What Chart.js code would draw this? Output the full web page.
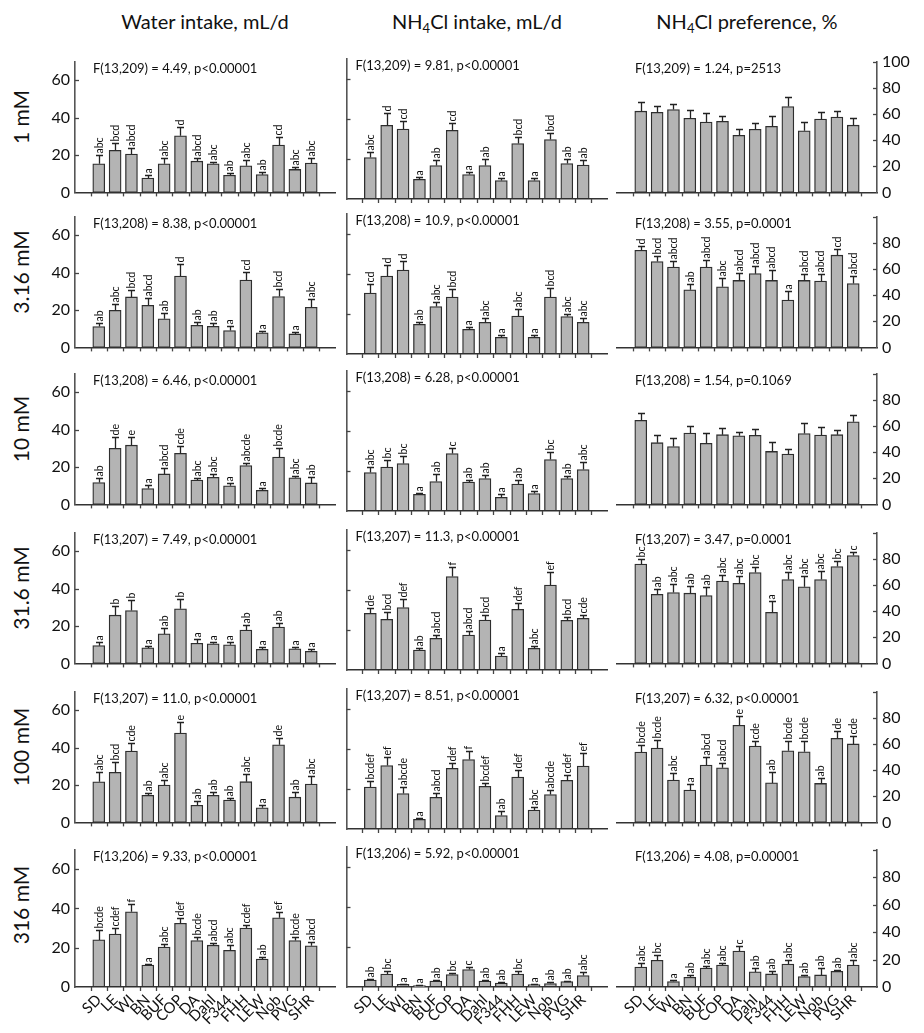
<!DOCTYPE html>
<html><head><meta charset="utf-8">
<script src="https://cdn.jsdelivr.net/npm/chart.js@4/dist/chart.umd.min.js"></script>
<style>
html,body{margin:0;padding:0;background:#fff;}
body{width:924px;height:1033px;position:relative;overflow:hidden;font-family:Lato,"Open Sans",sans-serif;color:#111;}
canvas{position:absolute;}
.ctitle{position:absolute;top:6px;width:300px;text-align:center;font-size:20px;line-height:30px;}
.ctitle sub{font-size:13px;vertical-align:-4px;line-height:0;}
.rlabel{position:absolute;width:200px;height:26px;line-height:26px;text-align:center;font-size:21px;transform:rotate(-90deg);}
</style></head>
<body>
<script>
// ---------------- DATA ----------------
const strains = ['SD','LE','WI','BN','BUF','COP','DA','Dahl','F344','FHH','LEW','Nob','PVG','SHR'];
const concentrations = ['1 mM','3.16 mM','10 mM','31.6 mM','100 mM','316 mM'];
const columnTitles = ['Water intake, mL/d','NH<sub>4</sub>Cl intake, mL/d','NH<sub>4</sub>Cl preference, %'];
const intakeTicks = [0,20,40,60];
const prefTicks = [0,20,40,60,80,100];

// Water intake (mL/d): means, SE, significance letters
const water_1 = [15.3,22.5,20.5,7.7,15.3,30.3,16.7,15.3,9.2,14.2,9.5,25.3,12.3,15.7];
const water_1_se = [4.5,4.2,3.0,1.5,3.0,4.5,1.8,1.2,1.3,3.0,1.2,4.4,1.2,2.5];
const water_1_sig = ['abc','bcd','abcd','a','abc','d','abcd','abc','ab','abc','ab','cd','abc','abc'];
const water_316 = [11.2,19.8,27,22.5,15.3,38.2,11.8,11.3,9,36,7.8,27.2,7.2,21.5];
const water_316_se = [2.1,3.5,3.5,4.0,3.2,6.6,1.7,1.5,2.2,4.2,1.0,3.8,1.3,4.5];
const water_316_sig = ['ab','abc','bcd','abcd','ab','d','ab','ab','a','cd','a','bcd','a','abc'];
const water_10 = [11.7,30,31.7,8.5,16.3,27.3,13,14.5,10,20.8,7.5,25.3,14.2,11.5];
const water_10_se = [2.5,6.2,4.5,2.0,3.2,4.2,1.0,1.7,1.2,1.2,1.2,4.7,1.1,3.0];
const water_10_sig = ['ab','de','e','a','abcd','cde','abc','abc','a','abcde','a','bcde','abc','ab'];
const water_31 = [9.5,25.8,28.3,8.3,15.8,29.2,10.8,10.5,10,17.8,7.5,19.5,7.8,6.5];
const water_31_se = [2.0,5.0,5.4,1.2,2.9,5.0,2.0,1.0,1.5,2.7,1.5,2.2,1.0,1.3];
const water_31_sig = ['a','b','b','a','ab','b','a','a','a','ab','a','ab','a','a'];
const water_100 = [21.7,26.8,38.2,14.5,20,47.8,9.2,14.5,12,21.8,7.8,41.5,13.5,20.5];
const water_100_se = [5.1,5.7,4.3,1.2,2.8,6.0,2.0,1.7,1.2,4.0,1.5,3.7,2.7,4.5];
const water_100_sig = ['abc','bcd','cde','ab','abc','e','ab','ab','ab','abc','a','de','ab','abc'];
const water_316mM = [24,27,38.3,11.2,20.3,32.5,23.7,21.3,18.7,30,14.2,35.3,23.7,21];
const water_316mM_se = [4.8,3.3,3.9,0.5,1.7,2.5,1.8,1.2,2.6,1.7,1.3,3.0,1.6,2.0];
const water_316mM_sig = ['bcde','cdef','f','a','abc','def','bcde','abcd','abc','cdef','ab','ef','bcde','abcd'];
const water_stats = ['F(13,209) = 4.49, p<0.00001','F(13,208) = 8.38, p<0.00001','F(13,208) = 6.46, p<0.00001','F(13,207) = 7.49, p<0.00001','F(13,207) = 11.0, p<0.00001','F(13,206) = 9.33, p<0.00001'];

// NH4Cl intake (mL/d)
const nh4_1 = [20.7,36.8,35,9.8,16.7,34.3,12.2,16.7,9.2,27.7,9.2,29.7,17.7,17];
const nh4_1_se = [3.0,6.0,4.2,1.4,2.8,3.5,1.1,3.1,1.5,3.1,1.5,3.5,2.1,2.5];
const nh4_1_sig = ['abc','d','cd','a','ab','cd','a','ab','a','bcd','a','bcd','ab','ab'];
const nh4_316 = [30.5,39,42,14.8,23.7,28.5,12.3,15.8,8.3,19,8.3,28.5,18.7,15.8];
const nh4_316_se = [4.3,5.5,4.7,1.4,2.5,3.8,1.4,2.0,1.2,3.3,1.2,4.3,1.3,2.0];
const nh4_316_sig = ['cd','d','d','ab','abc','bcd','a','abc','a','abc','a','bcd','abc','abc'];
const nh4_10 = [19.2,22,23.7,8.3,14.7,28.7,14.5,16.2,6.8,13.5,8.7,25.7,16.2,20.7];
const nh4_10_se = [2.6,3.3,3.6,0.7,4.0,3.0,1.2,2.0,1.7,2.0,1.3,3.6,1.5,3.6];
const nh4_10_sig = ['abc','bc','bc','a','ab','c','ab','ab','a','ab','a','bc','ab','abc'];
const nh4_31 = [28.3,25.3,31.2,10,15.8,46.7,17.5,25,7,30.3,10.8,42.5,24.8,25.8];
const nh4_31_se = [2.9,3.5,4.1,1.2,1.7,5.0,2.0,2.5,1.3,3.0,1.4,6.7,1.9,1.7];
const nh4_31_sig = ['de','bcd','def','ab','abcd','f','abcd','bcd','a','def','abc','ef','bcd','cde'];
const nh4_100 = [21,31.7,17.7,4.8,15.8,30.3,34.7,21.3,6.7,26,9.5,17.2,24.3,31.5];
const nh4_100_se = [3.0,4.1,3.1,0.9,2.4,2.5,4.3,1.9,2.1,3.5,1.7,2.3,2.7,6.7];
const nh4_100_sig = ['bcdef','ef','abcde','a','abcd','def','f','bcdef','ab','def','abc','abcde','cdef','ef'];
const nh4_316mM = [3.5,6.5,1.3,0.7,3,6.2,8.7,3,2,6.5,1.2,1.7,2.7,5.7];
const nh4_316mM_se = [0.7,1.3,0.4,0.3,0.7,0.6,1.3,0.7,0.3,1.5,0.2,0.8,0.3,1.8];
const nh4_316mM_sig = ['ab','bc','a','a','ab','bc','c','ab','ab','bc','a','ab','ab','abc'];
const nh4_stats = ['F(13,209) = 9.81, p<0.00001','F(13,208) = 10.9, p<0.00001','F(13,208) = 6.28, p<0.00001','F(13,207) = 11.3, p<0.00001','F(13,207) = 8.51, p<0.00001','F(13,206) = 5.92, p<0.00001'];

// NH4Cl preference (%)
const pref_1 = [62.1,61.2,63.3,56.7,53.8,54.3,43.6,48.3,50.5,65.7,47.1,56,57.6,51.4];
const pref_1_se = [6.9,4.8,4.3,6.6,6.9,4.0,4.7,4.6,7.8,6.9,6.7,5.7,4.8,5.3];
const pref_1_sig = [];
const pref_316 = [74.3,65.7,61.4,44,61.4,46.4,51.2,56.4,51.2,36.2,51.2,50.7,70.5,48.8];
const pref_316_se = [3.1,3.8,4.3,4.1,5.7,6.5,5.7,6.0,7.6,6.7,5.0,5.7,4.7,5.7];
const pref_316_sig = ['d','bcd','abcd','ab','abcd','abc','abcd','abcd','abcd','a','abcd','abcd','cd','abcd'];
const pref_10 = [64.3,47.2,44.3,54.5,46.7,53.3,52.5,52.8,40.5,38.5,54.2,53,53.3,63.1];
const pref_10_se = [5.3,6.0,6.5,5.5,8.0,5.0,3.2,5.2,7.5,3.7,7.8,6.5,3.3,5.6];
const pref_10_sig = [];
const pref_31 = [75.9,52.8,54.2,53.7,51.8,62.9,61.2,69.4,39,64.1,58.6,64.1,74,82.4];
const pref_31_se = [3.6,4.3,6.8,5.6,6.5,4.6,6.0,4.1,8.5,5.5,8.1,6.5,4.3,2.4];
const pref_31_sig = ['bc','ab','abc','ab','ab','abc','abc','bc','a','abc','abc','abc','bc','c'];
const pref_100 = [53.8,56.9,32.4,24.8,43.8,41.7,74.3,58.3,30.2,54.8,54,29.8,64.3,60];
const pref_100_se = [5.7,6.2,5.0,4.2,6.0,3.5,7.1,3.8,8.1,7.3,8.1,4.5,5.7,6.0];
const pref_100_sig = ['bcde','bcde','abc','a','abcd','abcd','e','cde','ab','bcde','bcde','ab','de','cde'];
const pref_316mM = [14.5,19.5,4,7.1,13.8,16,26.2,11,9.5,16.7,7.6,8.8,11.4,16];
const pref_316mM_se = [2.9,3.8,0.8,1.7,1.7,1.6,4.0,2.6,2.4,3.1,1.2,4.8,1.2,4.0];
const pref_316mM_sig = ['abc','bc','a','ab','abc','abc','c','ab','ab','abc','ab','ab','ab','abc'];
const pref_stats = ['F(13,209) = 1.24, p=2513','F(13,208) = 3.55, p=0.0001','F(13,208) = 1.54, p=0.1069','F(13,207) = 3.47, p=0.0001','F(13,207) = 6.32, p<0.00001','F(13,206) = 4.08, p=0.00001'];

// ---------------- LAYOUT ----------------
const FONT = 'Lato, "Open Sans", sans-serif';
const zeroY = [199,354,511,670,829,987];
const PLOT_H = 140, PAD_TOP = 12;
const cols = [
  {left:15, width:325, pos:'left', axisW:60, padL:0, padR:5, max:70, marks:[20,40,60], textDx:18},
  {left:340, width:272, pos:'left', axisW:6.5, padL:0, padR:5, max:70, marks:[20,40,60], textDx:9},
  {left:612, width:312, pos:'right', axisW:47, padL:5, padR:0, max:100, marks:[20,40,60,80,100], textDx:18}
];
const panels = [
  [water_1,water_1_se,water_1_sig],[water_316,water_316_se,water_316_sig],[water_10,water_10_se,water_10_sig],
  [water_31,water_31_se,water_31_sig],[water_100,water_100_se,water_100_sig],[water_316mM,water_316mM_se,water_316mM_sig],
  [nh4_1,nh4_1_se,nh4_1_sig],[nh4_316,nh4_316_se,nh4_316_sig],[nh4_10,nh4_10_se,nh4_10_sig],
  [nh4_31,nh4_31_se,nh4_31_sig],[nh4_100,nh4_100_se,nh4_100_sig],[nh4_316mM,nh4_316mM_se,nh4_316mM_sig],
  [pref_1,pref_1_se,pref_1_sig],[pref_316,pref_316_se,pref_316_sig],[pref_10,pref_10_se,pref_10_sig],
  [pref_31,pref_31_se,pref_31_sig],[pref_100,pref_100_se,pref_100_sig],[pref_316mM,pref_316mM_se,pref_316mM_sig]
];
const stats = [water_stats, nh4_stats, pref_stats];

// titles
const titleCenters = [205, 477, 747];
columnTitles.forEach((t,i)=>{
  const d=document.createElement('div'); d.className='ctitle'; d.innerHTML=t;
  d.style.left=(titleCenters[i]-150)+'px'; document.body.appendChild(d);
});
concentrations.forEach((t,r)=>{
  const d=document.createElement('div'); d.className='rlabel'; d.textContent=t;
  d.style.left=(21-100)+'px'; d.style.top=(zeroY[r]-82-13)+'px'; document.body.appendChild(d);
});

function makePlugin(means, ses, sig, stat, col){
  return {
    id:'panelDecor',
    afterDatasetsDraw(chart){
      const {ctx, chartArea:ca, scales:{x,y}} = chart;
      ctx.save();
      ctx.strokeStyle='#444'; ctx.lineWidth=1.3;
      // inward y tick marks
      col.marks.forEach(v=>{
        const py=Math.round(y.getPixelForValue(v))+0.5;
        ctx.beginPath();
        if(col.pos==='left'){ctx.moveTo(ca.left,py);ctx.lineTo(ca.left+4,py);}
        else {ctx.moveTo(ca.right,py);ctx.lineTo(ca.right-4,py);}
        ctx.stroke();
      });
      // x tick marks between categories
      for(let i=0;i<=strains.length;i++){
        const px=Math.round(x.getPixelForValue(i-0.5))+0.5;
        ctx.beginPath();ctx.moveTo(px,ca.bottom);ctx.lineTo(px,ca.bottom+4);ctx.stroke();
      }
      // error bars + letters
      const meta=chart.getDatasetMeta(0);
      ctx.strokeStyle='#222'; ctx.lineWidth=1.3;
      ctx.fillStyle='#111'; ctx.font='10.5px '+FONT;
      ctx.textAlign='left'; ctx.textBaseline='middle';
      meta.data.forEach((bar,i)=>{
        const yt=y.getPixelForValue(means[i]);
        const yc=Math.round(y.getPixelForValue(means[i]+ses[i]))+0.5;
        const bx=Math.round(bar.x)+0.5;
        ctx.beginPath();ctx.moveTo(bx,yt);ctx.lineTo(bx,yc);
        ctx.moveTo(bx-3.5,yc);ctx.lineTo(bx+3.5,yc);ctx.stroke();
        if(sig[i]){
          ctx.save();ctx.translate(bar.x,yc-2);ctx.rotate(-Math.PI/2);
          ctx.fillText(sig[i],0,0.5);ctx.restore();
        }
      });
      // statistics text
      ctx.font='13px '+FONT; ctx.textBaseline='middle'; ctx.textAlign='left'; ctx.fillStyle='#111';
      ctx.fillText(stat, ca.left+col.textDx, ca.top+7);
      ctx.restore();
    }
  };
}

for(let c=0;c<3;c++){
  for(let r=0;r<6;r++){
    const col=cols[c];
    const [means,ses,sig]=panels[c*6+r];
    const bottomRow = r===5;
    const xH = bottomRow ? 46 : 8;
    const cv=document.createElement('canvas');
    const H = PAD_TOP+PLOT_H+xH;
    cv.width=col.width; cv.height=H;
    cv.style.left=col.left+'px'; cv.style.top=(zeroY[r]-PLOT_H-PAD_TOP)+'px';
    cv.style.width=col.width+'px'; cv.style.height=H+'px';
    document.body.appendChild(cv);
    let yLabels;
    if(c===0) yLabels=intakeTicks;
    else if(c===2) yLabels = r===0 ? prefTicks : prefTicks.slice(0,5);
    else yLabels=[];
    new Chart(cv,{
      type:'bar',
      data:{datasets:[{
        data: means.map((v,i)=>({x:i,y:v})),
        backgroundColor:'#b4b4b4', borderColor:'#2e2e2e', borderWidth:1.3, borderSkipped:false,
        barThickness:12
      }]},
      options:{
        responsive:false, animation:false, devicePixelRatio:1,
        layout:{padding:{top:PAD_TOP,left:col.padL,right:col.padR,bottom:0}},
        plugins:{legend:{display:false},tooltip:{enabled:false},title:{display:false}},
        scales:{
          x:{type:'linear', min:-0.886, max:strains.length-1+0.886,
             grid:{display:false, drawTicks:false},
             border:{display:true,color:'#333',width:1.5},
             afterBuildTicks:s=>{s.ticks=strains.map((_,i)=>({value:i}));},
             afterFit:s=>{s.height=xH;},
             ticks:{display:bottomRow, autoSkip:false, maxRotation:45, minRotation:45, padding:4,
                    color:'#111', font:{family:FONT,size:15},
                    callback:v=>strains[v]}},
          y:{position:col.pos, min:0, max:col.max,
             grid:{display:false, drawTicks:false},
             border:{display:true,color:'#555',width:1.6},
             afterBuildTicks:s=>{s.ticks=yLabels.map(v=>({value:v}));},
             afterFit:s=>{s.width=col.axisW;},
             ticks:{display:yLabels.length>0, padding:5, color:'#111', font:{family:FONT,size:16}}}
        }
      },
      plugins:[makePlugin(means,ses,sig,stats[c][r],col)]
    });
  }
}
</script>
</body></html>
